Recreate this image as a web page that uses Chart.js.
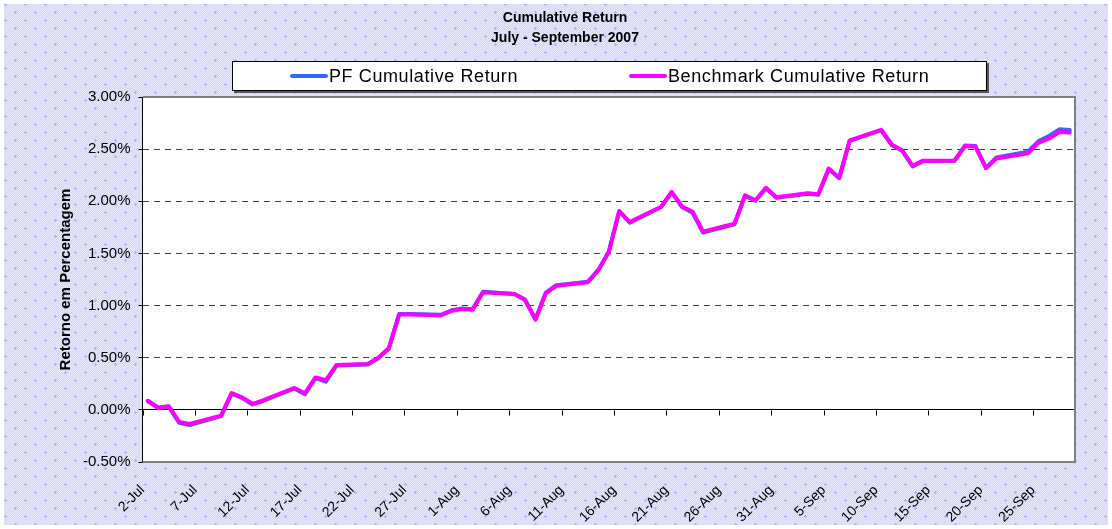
<!DOCTYPE html>
<html>
<head>
<meta charset="utf-8">
<script src="https://cdn.jsdelivr.net/npm/chart.js@4.4.1/dist/chart.umd.min.js"></script>
<style>
html, body { margin: 0; padding: 0; background: #fff; }
#wrap { position: relative; width: 1112px; height: 529px; }
#c { position: absolute; left: 0; top: 0; }
#legend {
  position: absolute; left: 232px; top: 61px; width: 753px; height: 28px;
  background: #fff; border: 1px solid #000; box-shadow: 2px 2px 0 #555;
  font-family: "Liberation Sans", Arial, sans-serif; font-size: 18px; letter-spacing: 0.6px; color: #000;
}
#legend .item { position: absolute; top: 0; height: 28px; display: flex; align-items: center; white-space: nowrap; }
#legend .item:nth-child(1) { left: 57px; }
#legend .item:nth-child(2) { left: 396px; }
#legend .swatch { display: inline-block; width: 38px; height: 4px; margin-right: 1px; border-radius: 2px; }
</style>
</head>
<body>
<div id="wrap">
  <canvas id="c" width="1112" height="529"></canvas>
  <div id="legend"></div>
</div>
<script>
// ---- data ----
const dates = [
  '2007-07-02','2007-07-03','2007-07-04','2007-07-05','2007-07-06',
  '2007-07-09','2007-07-10','2007-07-11','2007-07-12','2007-07-13',
  '2007-07-16','2007-07-17','2007-07-18','2007-07-19','2007-07-20',
  '2007-07-23','2007-07-24','2007-07-25','2007-07-26','2007-07-27',
  '2007-07-30','2007-07-31','2007-08-01','2007-08-02','2007-08-03',
  '2007-08-06','2007-08-07','2007-08-08','2007-08-09','2007-08-10',
  '2007-08-13','2007-08-14','2007-08-15','2007-08-16','2007-08-17',
  '2007-08-20','2007-08-21','2007-08-22','2007-08-23','2007-08-24',
  '2007-08-27','2007-08-28','2007-08-29','2007-08-30','2007-08-31',
  '2007-09-03','2007-09-04','2007-09-05','2007-09-06','2007-09-07',
  '2007-09-10','2007-09-11','2007-09-12','2007-09-13','2007-09-14',
  '2007-09-17','2007-09-18','2007-09-19','2007-09-20','2007-09-21',
  '2007-09-24','2007-09-25','2007-09-26','2007-09-27','2007-09-28'
];
const pfCumulativeReturn = [
  0.085, 0.018, 0.030, -0.125, -0.145,
  -0.060, 0.155, 0.115, 0.052, 0.085,
  0.205, 0.150, 0.305, 0.270, 0.425,
  0.435, 0.495, 0.585, 0.920, 0.920,
  0.912, 0.955, 0.972, 0.965, 1.132,
  1.112, 1.058, 0.870, 1.125, 1.195,
  1.228, 1.342, 1.515, 1.905, 1.795,
  1.945, 2.085, 1.945, 1.890, 1.700,
  1.780, 2.050, 2.005, 2.125, 2.035,
  2.072, 2.062, 2.310, 2.222, 2.580,
  2.682, 2.540, 2.485, 2.335, 2.385,
  2.388, 2.535, 2.530, 2.318, 2.420,
  2.475, 2.575, 2.625, 2.690, 2.685
];
const benchmarkCumulativeReturn = [
  0.087, 0.022, 0.035, -0.115, -0.135,
  -0.055, 0.160, 0.120, 0.058, 0.090,
  0.210, 0.160, 0.310, 0.285, 0.430,
  0.440, 0.500, 0.590, 0.915, 0.915,
  0.907, 0.950, 0.968, 0.960, 1.128,
  1.110, 1.055, 0.865, 1.120, 1.190,
  1.224, 1.340, 1.513, 1.907, 1.800,
  1.948, 2.090, 1.950, 1.900, 1.708,
  1.785, 2.058, 2.010, 2.130, 2.040,
  2.077, 2.067, 2.314, 2.227, 2.585,
  2.686, 2.545, 2.490, 2.340, 2.390,
  2.390, 2.530, 2.525, 2.320, 2.410,
  2.460, 2.560, 2.600, 2.665, 2.660
];
const xTickLabels = ['2-Jul','7-Jul','12-Jul','17-Jul','22-Jul','27-Jul','1-Aug','6-Aug','11-Aug',
  '16-Aug','21-Aug','26-Aug','31-Aug','5-Sep','10-Sep','15-Sep','20-Sep','25-Sep'];
const yTickValues = [-0.5, 0, 0.5, 1.0, 1.5, 2.0, 2.5, 3.0];
const titleLines = ['Cumulative Return', 'July - September 2007'];
const yAxisTitle = 'Retorno em Percentagem';
const seriesNames = ['PF Cumulative Return', 'Benchmark Cumulative Return'];

// ---- helpers ----
const DAY = 86400000;
const baseTime = Date.parse(dates[0] + 'T00:00:00Z');
const axisDays = 89;     // 2-Jul .. 29-Sep (date axis, one unit per day)
const xTickStep = 5;
function dayPos(d) { return (Date.parse(d + 'T00:00:00Z') - baseTime) / DAY + 0.5; }
function toPoints(vals) { return dates.map((d, i) => ({ x: dayPos(d), y: vals[i] })); }

const FONT = '"Liberation Sans", Arial, sans-serif';

function makePattern(ctx) {
  const t = document.createElement('canvas');
  t.width = 20; t.height = 16;
  const p = t.getContext('2d');
  p.fillStyle = '#d4d4fd'; p.fillRect(0, 0, 20, 16);
  p.fillStyle = '#e6e6ff';
  for (let y = 0; y < 16; y++) for (let x = (y % 2); x < 20; x += 2) p.fillRect(x, y, 1, 1);
  p.fillStyle = '#b4b4f2';
  [[5, 4], [15, 12]].forEach(([cx, cy]) => { p.fillRect(cx - 1, cy, 3, 1); p.fillRect(cx, cy - 1, 1, 3); });
  return ctx.createPattern(t, 'repeat');
}

const backgroundPlugin = {
  id: 'excelBackground',
  beforeDraw(chart) {
    const { ctx, chartArea: a, width, height } = chart;
    ctx.save();
    ctx.fillStyle = '#fff'; ctx.fillRect(0, 0, width, height);
    ctx.fillStyle = makePattern(ctx); ctx.fillRect(4, 4, width - 8, height - 8);
    ctx.fillStyle = '#fff'; ctx.fillRect(a.left, a.top, a.right - a.left, a.bottom - a.top);
    ctx.restore();
  },
  beforeDatasetsDraw(chart) {
    const { ctx, chartArea: a, scales } = chart;
    ctx.save();
    // plot frame (top / right / bottom)
    ctx.strokeStyle = '#808080'; ctx.lineWidth = 2;
    ctx.beginPath();
    ctx.moveTo(a.left, a.top); ctx.lineTo(a.right, a.top); ctx.lineTo(a.right, a.bottom); ctx.lineTo(a.left, a.bottom);
    ctx.stroke();
    // category tick marks on the zero line (axis crosses at 0)
    const y0 = Math.round(scales.y.getPixelForValue(0)) + 0.5;
    ctx.strokeStyle = '#000'; ctx.lineWidth = 1;
    ctx.beginPath();
    scales.x.ticks.forEach((t) => {
      const px = Math.round(scales.x.getPixelForValue(t.value)) + 0.5;
      ctx.moveTo(px, y0); ctx.lineTo(px, y0 + 5);
    });
    ctx.stroke();
    ctx.restore();
  }
};

const colors = ['#3366ff', '#ff00ff'];

const chart = new Chart(document.getElementById('c'), {
  type: 'line',
  data: {
    datasets: [
      { label: seriesNames[0], data: toPoints(pfCumulativeReturn), borderColor: colors[0], backgroundColor: colors[0],
        borderWidth: 4, pointRadius: 0, tension: 0, order: 1, borderJoinStyle: 'round', borderCapStyle: 'round' },
      { label: seriesNames[1], data: toPoints(benchmarkCumulativeReturn), borderColor: colors[1], backgroundColor: colors[1],
        borderWidth: 4, pointRadius: 0, tension: 0, order: 0, borderJoinStyle: 'round', borderCapStyle: 'round' }
    ]
  },
  options: {
    responsive: false,
    animation: false,
    events: [],
    layout: { padding: { left: 55, right: 37, top: 0, bottom: 7 } },
    plugins: {
      legend: { display: false },
      tooltip: { enabled: false },
      title: {
        display: true,
        text: titleLines,
        color: '#000',
        font: { family: FONT, size: 14, weight: 'bold', lineHeight: 1.43 },
        padding: { top: 8, bottom: 49 }
      }
    },
    scales: {
      x: {
        type: 'linear', position: 'bottom', min: 0, max: axisDays,
        grid: { display: false },
        border: { display: false },
        afterFit: (s) => { s.height = 60; },
        ticks: {
          stepSize: xTickStep, includeBounds: false, autoSkip: false,
          minRotation: 45, maxRotation: 45, padding: 12, color: '#000',
          font: { family: FONT, size: 14 },
          callback: (v) => { const i = Math.round(v / xTickStep); return (v % xTickStep === 0 && xTickLabels[i]) ? xTickLabels[i] : ''; }
        }
      },
      y: {
        type: 'linear', position: 'left', min: -0.5, max: 3.0,
        afterBuildTicks: (s) => { s.ticks = yTickValues.map(v => ({ value: v })); },
        grid: {
          color: (c) => (c.tick && c.tick.value === 0) ? '#000' : (c.tick && c.tick.value === 3 ? 'rgba(0,0,0,0)' : '#404040'),
          lineWidth: 1, drawTicks: true, tickLength: 4, tickColor: '#000', tickBorderDash: []
        },
        border: {
          display: true, color: '#000', width: 1,
          dash: (c) => (c.tick && c.tick.value !== 0) ? [6, 5] : []
        },
        ticks: {
          padding: 8, color: '#000', font: { family: FONT, size: 15 },
          callback: (v) => v.toFixed(2) + '%'
        },
        title: {
          display: true, text: yAxisTitle, color: '#000',
          font: { family: FONT, size: 15, weight: 'bold' },
          padding: { top: 2, bottom: 0 }
        }
      }
    }
  },
  plugins: [backgroundPlugin]
});

// HTML legend built from the chart's datasets (legend order as in the reference)
const legendEl = document.getElementById('legend');
chart.data.datasets.forEach((ds) => {
  const item = document.createElement('div');
  item.className = 'item';
  const sw = document.createElement('span');
  sw.className = 'swatch';
  sw.style.background = ds.borderColor;
  const tx = document.createElement('span');
  tx.textContent = ds.label;
  item.appendChild(sw); item.appendChild(tx);
  legendEl.appendChild(item);
});
</script>
</body>
</html>
